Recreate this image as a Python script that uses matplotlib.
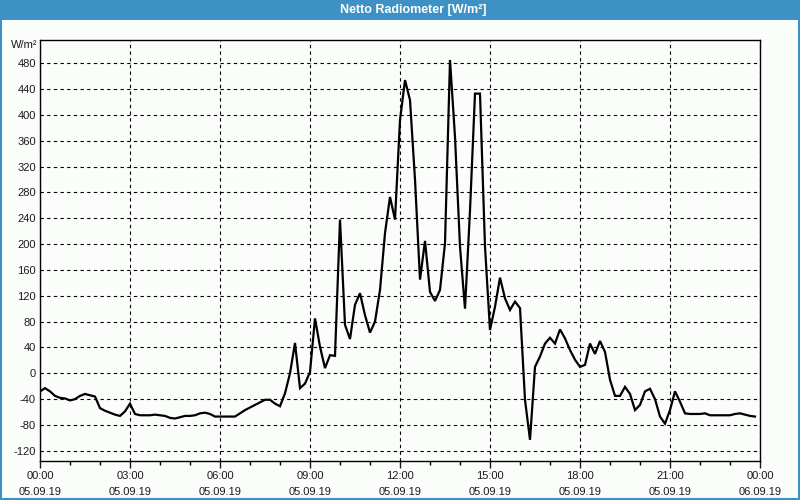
import numpy as np
import matplotlib
matplotlib.use("Agg")
import matplotlib.pyplot as plt
from matplotlib.patches import Rectangle
from matplotlib.ticker import MultipleLocator, FixedLocator

plt.rcParams['font.family'] = ['Liberation Sans', 'DejaVu Sans']

title = "Netto Radiometer [W/m²]"
unit_label = "W/m²"

# 10-minute samples from 05.09.19 00:00 to 23:50 (values in W/m²)
values = [
    -28, -23, -28, -35, -38, -39, -42, -40, -35, -32, -34, -36,      # 00:00-01:50
    -54, -58, -61, -64, -66, -59, -47, -63, -65, -65, -65, -64,      # 02:00-03:50
    -65, -66, -69, -70, -68, -66, -66, -65, -62, -61, -63, -67,      # 04:00-05:50
    -67, -67, -67, -67, -62, -57, -53, -49, -45, -41, -41, -47,      # 06:00-07:50
    -51, -31, 0, 47, -23, -16, 2, 85, 41, 8, 28, 27,                 # 08:00-09:50
    238, 75, 53, 106, 124, 90, 63, 80, 129, 217, 273, 238,           # 10:00-11:50
    392, 454, 423, 300, 145, 205, 126, 112, 129, 201, 485, 366,      # 12:00-13:50
    196, 100, 252, 433, 433, 196, 67, 103, 148, 116, 98, 111,        # 14:00-15:50
    101, -41, -103, 10, 26, 46, 55, 46, 68, 54, 36, 21,              # 16:00-17:50
    10, 13, 46, 30, 50, 33, -10, -35, -35, -21, -32, -57,            # 18:00-19:50
    -49, -28, -24, -40, -67, -78, -57, -28, -44, -62, -63, -63,      # 20:00-21:50
    -63, -62, -65, -65, -65, -65, -65, -63, -62, -64, -66, -67,      # 22:00-23:50
]
hours = np.arange(len(values)) / 6.0

xtick_hours = [0, 3, 6, 9, 12, 15, 18, 21, 24]
xtick_labels = ["00:00\n05.09.19", "03:00\n05.09.19", "06:00\n05.09.19",
                "09:00\n05.09.19", "12:00\n05.09.19", "15:00\n05.09.19",
                "18:00\n05.09.19", "21:00\n05.09.19", "00:00\n06.09.19"]
ytick_values = list(range(-120, 481, 40))

bg = '#fbfdfb'
blue = '#3d91c4'

fig = plt.figure(figsize=(8, 5), dpi=100, facecolor=bg)

# title bar
fig.patches.append(Rectangle((0, 1 - 20 / 500), 1, 20 / 500, transform=fig.transFigure,
                             facecolor=blue, edgecolor='none', zorder=0))
# window frame
fig.patches.append(Rectangle((0.001, 0.002), 0.998, 0.997, transform=fig.transFigure,
                             facecolor='none', edgecolor=blue, linewidth=1.5, zorder=5))
fig.text(413 / 800, 1 - 10 / 500, title, color='white', fontsize=9, fontweight='bold',
         ha='center', va='center')

ax = fig.add_axes([40 / 800, 1 - 461 / 500, 720 / 800, 421 / 500])
ax.set_facecolor(bg)
ax.plot(hours, values, color='black', linewidth=1.6, solid_joinstyle='miter', zorder=3)

ax.set_xlim(0, 24)
ax.set_ylim(-135.8, 516)
ax.xaxis.set_major_locator(FixedLocator(xtick_hours))
ax.set_xticklabels(xtick_labels, linespacing=1.7)
ax.xaxis.set_minor_locator(MultipleLocator(1))
ax.set_yticks(ytick_values)
ax.set_yticklabels([str(v) for v in ytick_values])

ax.grid(True, which='major', color='black', linestyle=(0, (3, 3)), linewidth=0.8)
ax.tick_params(axis='x', which='major', length=5, width=1, direction='out', pad=2.5,
               labelsize=8, colors='#1a1a1a')
ax.tick_params(axis='x', which='minor', length=3, width=1, direction='out')
ax.tick_params(axis='y', which='major', length=0, pad=3, labelsize=8, colors='#1a1a1a')
for s in ax.spines.values():
    s.set_color('black')
    s.set_linewidth(1.0)

fig.text(37 / 800, 1 - 45 / 500, unit_label, fontsize=8, color='#1a1a1a',
         ha='right', va='center')

fig.savefig("out.png", dpi=100, facecolor=bg)
